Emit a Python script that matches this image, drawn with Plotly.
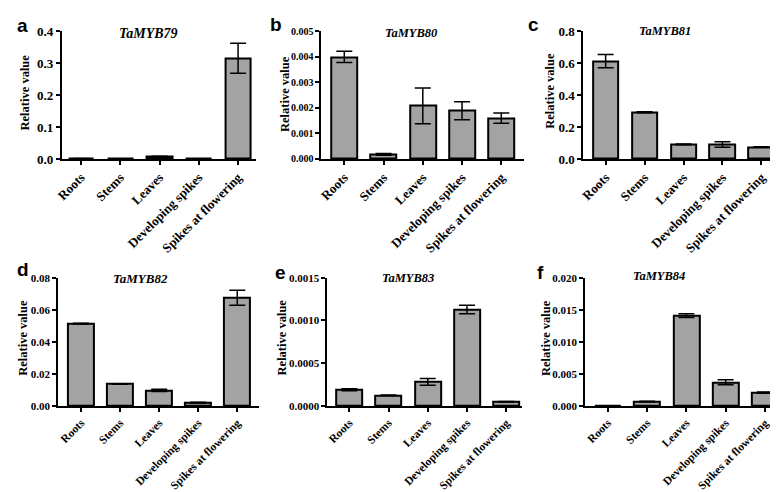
import plotly.graph_objects as go

categories = ["Roots", "Stems", "Leaves", "Developing spikes", "Spikes at flowering"]

genes = ["TaMYB79", "TaMYB80", "TaMYB81", "TaMYB82", "TaMYB83", "TaMYB84"]
panel_letters = ["a", "b", "c", "d", "e", "f"]

vals_79 = [0.0015, 0.001, 0.008, 0.001, 0.316]
err_79 = [0.0, 0.0, 0.0005, 0.0, 0.047]
vals_80 = [0.0040, 0.00018, 0.00208, 0.00189, 0.0016]
err_80 = [0.00022, 0.00003, 0.0007, 0.00035, 0.0002]
vals_81 = [0.614, 0.293, 0.092, 0.091, 0.075]
err_81 = [0.042, 0.003, 0.002, 0.017, 0.002]
vals_82 = [0.0514, 0.0137, 0.0097, 0.0021, 0.0675]
err_82 = [0.0002, 0.0002, 0.0007, 0.0002, 0.0047]
vals_83 = [0.000190, 0.000125, 0.000283, 0.001128, 0.00005]
err_83 = [0.000012, 0.000003, 0.00004, 0.00005, 0.000003]
vals_84 = [0.0, 0.0007, 0.0141, 0.0037, 0.0021]
err_84 = [0.0, 0.00005, 0.0003, 0.0004, 0.0001]

y_max = [0.4, 0.005, 0.8, 0.08, 0.0015, 0.020]
y_dtick = [0.1, 0.001, 0.2, 0.02, 0.0005, 0.005]
y_fmt = [".1f", ".3f", ".1f", ".2f", ".4f", ".3f"]

all_vals = [vals_79, vals_80, vals_81, vals_82, vals_83, vals_84]
all_errs = [err_79, err_80, err_81, err_82, err_83, err_84]

W, H = 778, 492
# layout in pixels: (axis_left, first_cat_px, axis_right, top_px, bottom_px)
geom = [
    (47, 66.7, 243, 17, 148.5),
    (309, 332.3, 514, 17, 148.5),
    (573.3, 596, 775, 17, 148.5),
    (43.3, 66.7, 246.7, 271, 403.3),
    (315, 337.3, 511.7, 271, 403.3),
    (575, 598.3, 772, 271, 403.3),
]
spacing = [39.6, 39.6, 39.3, 39.4, 39.6, 39.6]
ytick_size = [13, 10, 13, 11, 11, 11]
xtick_size = [13, 13, 13, 11.5, 11.5, 11.5]
title_size = [14, 12.5, 12.5, 13, 12.5, 12.5]
title_x = [135, 400, 656, 127, 397, 650]
title_y = [19, 19, 17, 272, 271, 269]
ytitle_x = [10, 273, 539, 8, 269, 536]
ytitle_y = [80, 82, 78, 333, 333, 333]
letter_pos = [(0, 11), (255, 10), (516, 10), (0, 262), (260, 266), (525, 266)]

serif = "Liberation Serif"
fig = go.Figure()

for i in range(6):
    ax = "" if i == 0 else str(i + 1)
    fig.add_trace(go.Bar(
        x=list(range(5)), y=all_vals[i],
        width=0.66,
        marker=dict(color="#a3a3a3", line=dict(color="black", width=2)),
        error_y=dict(type="data", array=all_errs[i], visible=True,
                     color="black", thickness=1.5, width=8),
        xaxis="x" + ax, yaxis="y" + ax, showlegend=False,
    ))
    l, c0, r, t, b = geom[i]
    sp = spacing[i]
    xr = [(l - c0) / sp, (r - c0) / sp]
    fig.update_layout(**{
        "xaxis" + ax: dict(
            domain=[l / W, r / W], range=xr, anchor="y" + ax,
            tickmode="array", tickvals=list(range(5)), ticktext=categories,
            tickangle=-45, showline=True, linecolor="black", linewidth=1.5,
            ticks="outside", ticklen=4, tickwidth=1.5, tickcolor="black",
            showgrid=False, zeroline=False,
            tickfont=dict(family=serif, size=xtick_size[i], color="black", weight="bold"),
        ),
        "yaxis" + ax: dict(
            domain=[1 - b / H, 1 - t / H], range=[0, y_max[i]], anchor="x" + ax,
            dtick=y_dtick[i], tick0=0, tickformat=y_fmt[i],
            showline=True, linecolor="black", linewidth=1.5,
            ticks="outside", ticklen=4, tickwidth=1.5, tickcolor="black",
            showgrid=False, zeroline=False,
            tickfont=dict(family=serif, size=ytick_size[i], color="black", weight="bold"),
        ),
    })
    fig.add_annotation(x=title_x[i] / W, y=1 - title_y[i] / H, xref="paper", yref="paper",
                       text="<b><i>" + genes[i] + "</i></b>", showarrow=False,
                       font=dict(family=serif, size=title_size[i], color="black"),
                       xanchor="center", yanchor="middle")
    fig.add_annotation(x=ytitle_x[i] / W, y=1 - ytitle_y[i] / H, xref="paper", yref="paper",
                       text="<b>Relative value</b>", showarrow=False, textangle=-90,
                       font=dict(family=serif, size=12.5, color="black"),
                       xanchor="center", yanchor="middle")
    lx, ly = letter_pos[i]
    fig.add_annotation(x=lx / W, y=1 - ly / H, xref="paper", yref="paper",
                       text="<b>" + panel_letters[i] + "</b>", showarrow=False,
                       font=dict(family="Liberation Sans", size=19, color="black"),
                       xanchor="left", yanchor="middle")

fig.update_layout(width=W, height=H, margin=dict(l=0, r=0, t=0, b=0),
                  plot_bgcolor="white", paper_bgcolor="white", bargap=0)
fig.write_html("out.html")
